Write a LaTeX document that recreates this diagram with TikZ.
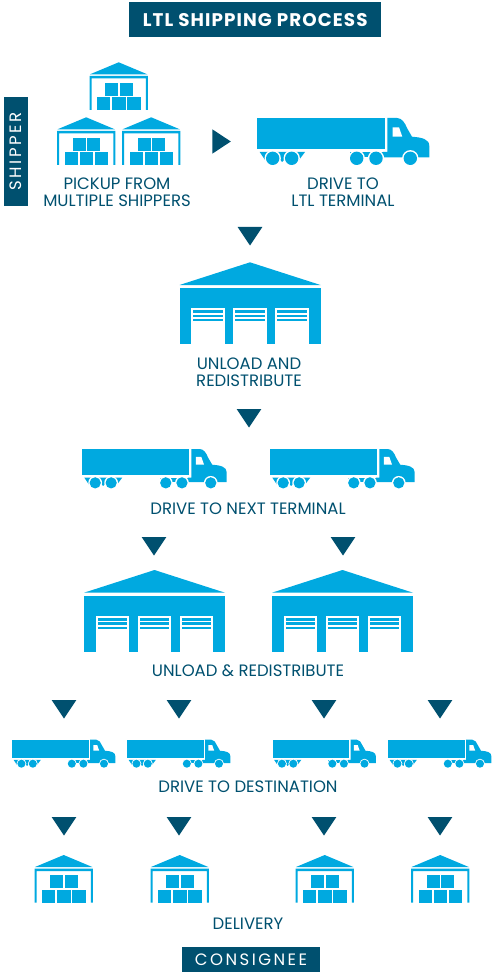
\documentclass[tikz,border=0pt]{standalone}
\usepackage{fontspec}
\setmainfont{Poppins}
\newfontfamily\spacedfont[LetterSpace=15]{Poppins}
\newfontfamily\titlefont[LetterSpace=6]{Poppins}
\usetikzlibrary{positioning}
\definecolor{ltlblue}{HTML}{00A9E0}
\definecolor{ltldark}{HTML}{00506F}
\tikzset{
  steplabel/.style={text=ltldark,font=\fontsize{16.5}{17}\selectfont,align=center,inner sep=0pt},
  banner/.style={fill=ltldark,text=white,inner sep=0pt,font=\spacedfont\fontsize{16.5}{17}\selectfont},
  truck/.pic={
    \fill[ltlblue] (0,0) rectangle (127.5,31);
    \fill[ltlblue] (130.3,0) -- (140,0) .. controls (145,0) and (148,5) .. (150,10) -- (155,18.7)
      .. controls (165,19.5) and (172.3,21) .. (172.3,28) -- (172.3,39.3) -- (126,39.3) -- (126,34) -- (130.3,34) -- cycle;
    \fill[white] (135.7,9.3) -- (142,9.3) -- (145.3,18.7) -- (135.7,18.7) -- cycle;
    \fill[ltlblue] (2.7,34) -- (15.7,34) -- (8,42) -- cycle;
    \fill[ltlblue] (15.7,34) -- (34.7,34) -- (25.2,44) -- cycle;
    \fill[ltlblue] (34.7,34) -- (48,34) -- (42,42) -- cycle;
    \fill[ltlblue] (92.7,34) -- (126,34) -- (126,39) -- (92.7,39) -- cycle;
    \foreach \wx in {15.7,34.7,99.7,119,153.3} {
      \fill[white] (\wx,40.3) circle (8.2);
      \fill[ltlblue] (\wx,40.3) circle (6.7);
    }
  },
  warehouse/.pic={
    \fill[ltlblue] (0,22.7) -- (70.5,0) -- (141,22.7) -- cycle;
    \fill[ltlblue] (0,26) rectangle (141,82);
    \foreach \dx in {11.8,53.8,95.8} {
      \fill[white] (\dx,46) rectangle ++(33.4,36);
      \fill[ltlblue] (\dx+2,48) rectangle ++(29.4,2.7);
      \fill[ltlblue] (\dx+2,52.4) rectangle ++(29.4,2.3);
      \fill[ltlblue] (\dx+2,56.7) rectangle ++(29.4,2.1);
    }
  },
  depot/.pic={
    \fill[ltlblue] (.5,12) -- (29.2,0) -- (57.8,12) -- cycle;
    \fill[ltlblue] (0,13.7) -- (58.3,13.7) -- (58.3,47.7) -- (56.3,47.7) -- (56.3,16) -- (2,16) -- (2,47.7) -- (0,47.7) -- cycle;
    \fill[ltlblue] (15.5,20.4) rectangle ++(13,13);
    \fill[ltlblue] (30.2,20.4) rectangle ++(13,13);
    \fill[ltlblue] (7.5,35) rectangle ++(13.3,12.7);
    \fill[ltlblue] (22.8,35) rectangle ++(13.3,12.7);
    \fill[ltlblue] (37.8,35) rectangle ++(13.3,12.7);
  },
  downmark/.pic={\fill[ltldark] (-12.4,0) -- (12.4,0) -- (0,18.5) -- cycle;},
  rightmark/.pic={\fill[ltldark] (0,-12.2) -- (18.5,0) -- (0,12.2) -- cycle;}
}
\begin{document}
\begin{tikzpicture}[x=1pt,y=-1pt]
  \useasboundingbox (0,0) rectangle (500,976);
  % banners
  \node[banner,minimum width=252pt,minimum height=34.7pt,font=\titlefont\bfseries\fontsize{18.3}{19}\selectfont] (title) at (255.2,19.7) {LTL SHIPPING PROCESS};
  \node[banner,rotate=90,minimum width=108.4pt,minimum height=24.6pt] (shipper) at (16,151.5) {SHIPPER};
  \node[banner,minimum width=138pt,minimum height=24.4pt] (consignee) at (251,959.5) {CONSIGNEE};
  % pickup
  \pic (d1) at (89.5,62.3) {depot};
  \pic (d2) at (57,117.3) {depot};
  \pic (d3) at (122,117.3) {depot};
  \pic (go) at (212.3,141.5) {rightmark};
  \pic (t0) at (257,118) {truck};
  \node[steplabel] (pickup) at (117,192) {PICKUP FROM\\MULTIPLE SHIPPERS};
  \node[steplabel] (drive) at (343,192) {DRIVE TO\\LTL TERMINAL};
  % first terminal
  \pic (a0) at (250,227) {downmark};
  \pic (w0) at (179.5,262.3) {warehouse};
  \node[steplabel] (unload) at (249,372.5) {UNLOAD AND\\REDISTRIBUTE};
  \pic (a1) at (249,409) {downmark};
  % next terminal
  \pic[scale=.84] (t1) at (82,449) {truck};
  \pic[scale=.84] (t2) at (270,449) {truck};
  \node[steplabel] (next) at (248,509) {DRIVE TO NEXT TERMINAL};
  \foreach \ax/\wx in {154/84,343/272} {
    \pic at (\ax,537) {downmark};
    \pic at (\wx,570) {warehouse};
  }
  \node[steplabel] (redist) at (248,671) {UNLOAD \& REDISTRIBUTE};
  % destination
  \foreach \ax/\tx/\dx in {64/12/34.5,179/127/150.5,324/272.5/295.5,440/388/411} {
    \pic at (\ax,700) {downmark};
    \pic[scale=.6] at (\tx,739.5) {truck};
    \pic at (\ax,817) {downmark};
    \pic at (\dx,855) {depot};
  }
  \node[steplabel] (dest) at (248,787) {DRIVE TO DESTINATION};
  \node[steplabel] (delivery) at (248,924) {DELIVERY};
\end{tikzpicture}
\end{document}
